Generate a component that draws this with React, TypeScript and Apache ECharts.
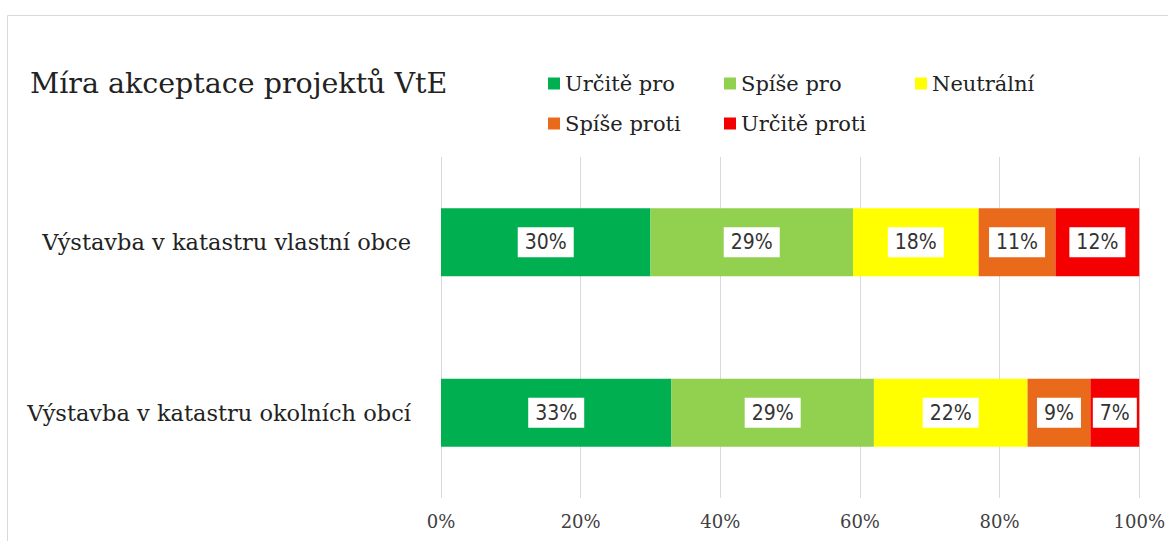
import React, { useEffect, useRef } from "react";
import * as echarts from "echarts";

const categories = ["Výstavba v katastru vlastní obce", "Výstavba v katastru okolních obcí"];
const seriesNames = ["Určitě pro", "Spíše pro", "Neutrální", "Spíše proti", "Určitě proti"];
const urciteProValues = [30, 33];
const spisePro = [29, 29];
const neutralni = [18, 22];
const spiseProti = [11, 9];
const urciteProti = [12, 7];
const colors = ["#00B050", "#92D050", "#FFFF00", "#EA6A1B", "#F50000"];
const xTicks = [0, 20, 40, 60, 80, 100];

const SERIF = "'DejaVu Serif', serif";

export default function App() {
  const ref = useRef<HTMLDivElement>(null);
  useEffect(() => {
    if (!ref.current) return;
    const chart = echarts.init(ref.current, undefined, { renderer: "svg" });
    const values = [urciteProValues, spisePro, neutralni, spiseProti, urciteProti];
    const legendPos = [
      { left: 548, top: 73 },
      { left: 724, top: 73 },
      { left: 915, top: 73 },
      { left: 548, top: 113 },
      { left: 724, top: 113 },
    ];
    chart.setOption({
      animation: false,
      backgroundColor: "#ffffff",
      title: {
        text: "Míra akceptace projektů VtE",
        left: 30,
        top: 69,
        padding: 0,
        textStyle: { fontFamily: SERIF, fontSize: 28.5, fontWeight: "normal", color: "#222222" },
      },
      legend: seriesNames.map((n, i) => ({
        data: [n],
        left: legendPos[i].left,
        top: legendPos[i].top,
        padding: 0,
        itemWidth: 12,
        itemHeight: 12,
        itemGap: 6,
        icon: "rect",
        selectedMode: false,
        textStyle: { fontFamily: SERIF, fontSize: 21, color: "#222222", padding: [0, 0, 0, 0] },
      })),
      graphic: [
        {
          type: "rect",
          shape: { x: 7.5, y: 15.5, width: 1300, height: 700 },
          style: { fill: "none", stroke: "#d9d9d9", lineWidth: 1 },
          silent: true,
          z: -1,
        },
      ],
      grid: { left: 441, right: 25, top: 157, bottom: 43, containLabel: false },
      xAxis: {
        type: "value",
        min: 0,
        max: 100,
        interval: 20,
        axisLine: { show: false },
        axisTick: { show: false },
        splitLine: { show: true, lineStyle: { color: "#d9d9d9", width: 1 } },
        axisLabel: {
          formatter: (v: number) => (xTicks.includes(v) ? v + "%" : ""),
          fontFamily: SERIF,
          fontSize: 18,
          color: "#404040",
          margin: 14,
        },
      },
      yAxis: {
        type: "category",
        data: categories,
        inverse: true,
        axisLine: { show: false },
        axisTick: { show: false },
        axisLabel: { fontFamily: SERIF, fontSize: 22.5, color: "#222222", margin: 30 },
      },
      series: seriesNames.map((n, i) => ({
        name: n,
        type: "bar",
        stack: "total",
        barWidth: 68,
        data: values[i],
        itemStyle: { color: colors[i] },
        label: {
          show: true,
          position: "inside",
          formatter: "{c}%",
          backgroundColor: "#ffffff",
          padding: [5, 7, 4, 7],
          fontFamily: "'DejaVu Sans Condensed', 'DejaVu Sans', sans-serif",
          fontSize: 21,
          color: "#333333",
        },
      })),
    });
    return () => chart.dispose();
  }, []);
  return (
    <div
      ref={ref}
      style={{ position: "absolute", left: 0, top: 0, width: 1168, height: 541 }}
    />
  );
}
